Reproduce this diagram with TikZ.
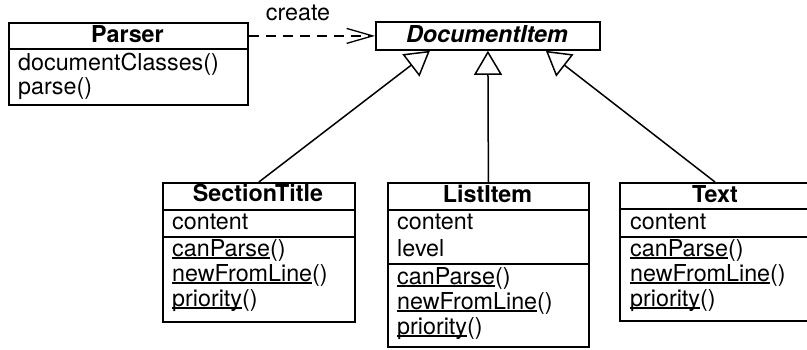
\documentclass[tikz,border=0pt]{standalone}
\usepackage{fontspec}
\setmainfont{TeX Gyre Heros}
\usetikzlibrary{arrows.meta}

% base font for all class boxes
\newcommand{\umlfont}{\fontsize{23.3}{26}\selectfont}
% static operation: name underlined, parentheses appended
\newcommand{\staticop}[1]{\setbox0\hbox{#1}\rlap{\rule[-2.6pt]{\wd0}{1.3pt}}\box0()}

\begin{document}
\begin{tikzpicture}[x=1pt, y=-1pt,
  umlbox/.style={draw, line width=1.8pt, anchor=north west, inner sep=0pt},
  sepline/.style={line width=1.8pt},
  classname/.style={anchor=base, inner sep=0pt, font=\umlfont\bfseries},
  abstractname/.style={anchor=base, inner sep=0pt, font=\umlfont\bfseries\itshape},
  member/.style={anchor=base west, inner sep=0pt, font=\umlfont},
  gen/.style={line width=1.5pt, -{Triangle[open, length=24pt, width=28pt, line width=1.5pt]}},
  dep/.style={line width=1.5pt, dash pattern=on 10pt off 7pt,
              -{Straight Barb[length=26pt, width=15pt, line width=1.3pt]}}]

\useasboundingbox (0,0) rectangle (807,349);

% Parser
\node[umlbox, minimum width=239pt, minimum height=82pt] (parser) at (8,22) {};
\draw[sepline] (8,49) -- (247,49);
\node[classname] (parsername) at (127.5,42) {Parser};
\node[member] (parserop1) at (18,70) {documentClasses()};
\node[member] (parserop2) at (18,94) {parse()};

% DocumentItem (abstract)
\node[umlbox, minimum width=224pt, minimum height=28pt] (doc) at (375,21) {};
\node[abstractname] (docname) at (487,42) {DocumentItem};

% SectionTitle
\node[umlbox, minimum width=192pt, minimum height=139pt] (st) at (162,182) {};
\draw[sepline] (162,210) -- (354,210);
\draw[sepline] (162,237) -- (354,237);
\node[classname] (stname) at (258,201) {SectionTitle};
\node[member] (stattr1) at (172,229) {content};
\node[member] (stop1) at (172,256) {\staticop{canParse}};
\node[member] (stop2) at (172,281) {\staticop{newFromLine}};
\node[member] (stop3) at (172,306) {\staticop{priority}};

% ListItem
\node[umlbox, minimum width=201pt, minimum height=164pt] (li) at (387,182) {};
\draw[sepline] (387,210) -- (588,210);
\draw[sepline] (387,264) -- (588,264);
\node[classname] (liname) at (487.5,202) {ListItem};
\node[member] (liattr1) at (397,229) {content};
\node[member] (liattr2) at (397,256) {level};
\node[member] (liop1) at (397,284) {\staticop{canParse}};
\node[member] (liop2) at (397,309) {\staticop{newFromLine}};
\node[member] (liop3) at (397,334) {\staticop{priority}};

% Text (runs past the right edge of the page)
\node[umlbox, minimum width=210pt, minimum height=138pt] (tx) at (619,182) {};
\draw[sepline] (619,209) -- (829,209);
\draw[sepline] (619,237) -- (829,237);
\node[classname] (txname) at (715,202) {Text};
\node[member] (txattr1) at (630,229) {content};
\node[member] (txop1) at (630,256) {\staticop{canParse}};
\node[member] (txop2) at (630,281) {\staticop{newFromLine}};
\node[member] (txop3) at (630,306) {\staticop{priority}};
\coordinate (txtop) at (715,182);

% create dependency
\draw[dep] (parser.east |- doc.west) -- (doc.west);
\node[anchor=base, inner sep=0pt, font=\umlfont] (createlabel) at (298,20) {create};

% generalisations
\draw[gen] (st.north) -- ([xshift=-58pt]doc.south);
\draw[gen] (li.north) -- (doc.south);
\draw[gen] (txtop) -- ([xshift=58pt]doc.south);

\end{tikzpicture}
\end{document}
